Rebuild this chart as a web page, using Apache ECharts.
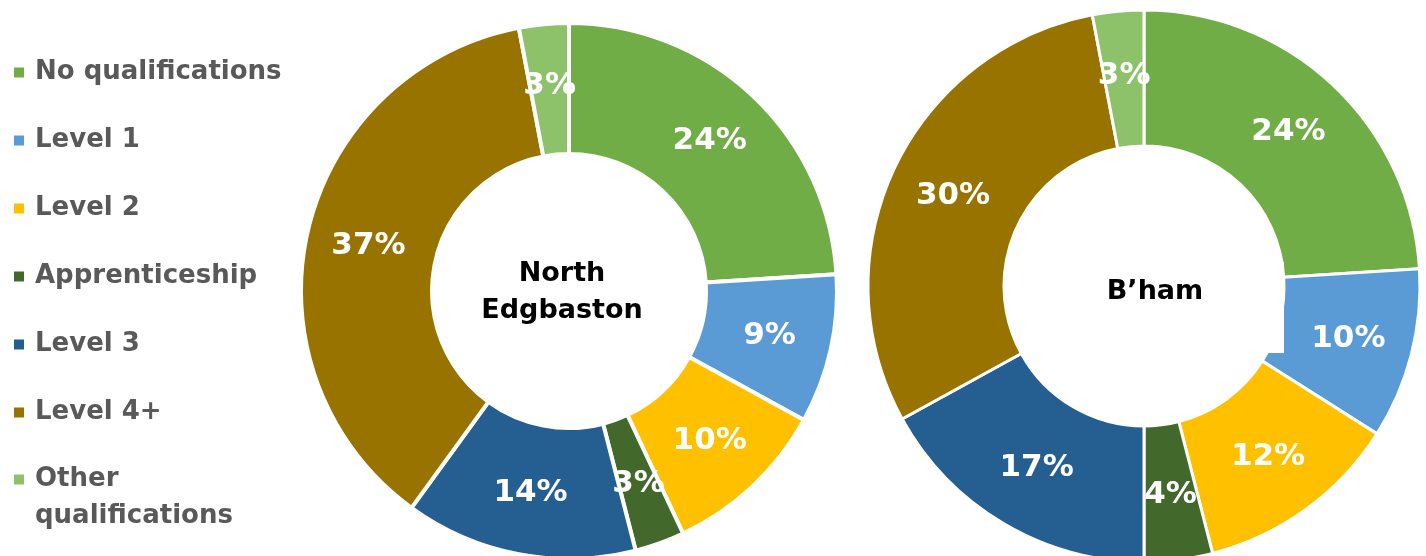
<!DOCTYPE html>
<html>
<head>
<meta charset="utf-8">
<script src="https://cdn.jsdelivr.net/npm/echarts@6/dist/echarts.min.js"></script>
<style>
html, body { margin: 0; padding: 0; background: #fff; }
#chart { width: 1426px; height: 556px; }
</style>
</head>
<body>
<div id="chart"></div>
<script>
// categories and values
var categories = ['No qualifications', 'Level 1', 'Level 2', 'Apprenticeship', 'Level 3', 'Level 4+', 'Other\nqualifications'];
var northEdgbaston = [24, 9, 10, 3, 14, 37, 3];
var birmingham = [24, 10, 12, 4, 17, 30, 3];
var colors = ['#70AD47', '#5B9BD5', '#FFC000', '#43682B', '#255E91', '#997300', '#8DC26B'];

var font = '"DejaVu Sans", Verdana, sans-serif';

function toData(values) {
    return values.map(function (v, i) {
        return { name: categories[i], value: v };
    });
}

function donut(name, center, radius, border, values) {
    return {
        name: name,
        type: 'pie',
        center: center,
        radius: radius,
        startAngle: 90,
        clockwise: true,
        avoidLabelOverlap: false,
        itemStyle: { borderColor: '#fff', borderWidth: border },
        label: {
            show: true,
            position: 'inside',
            formatter: '{c}%',
            color: '#fff',
            fontFamily: font,
            fontWeight: 'bold',
            fontSize: 31
        },
        labelLine: { show: false },
        emphasis: { disabled: true },
        data: toData(values)
    };
}

var legendText = {
    color: '#595959',
    fontFamily: font,
    fontWeight: 'bold',
    fontSize: 26,
    lineHeight: 37,
    padding: [0, 0, 0, 5]
};

var chart = echarts.init(document.getElementById('chart'));
chart.setOption({
    animation: false,
    color: colors,
    legend: [{
        orient: 'vertical',
        left: 12,
        top: 54,
        padding: 0,
        icon: 'rect',
        itemWidth: 12,
        itemHeight: 12,
        itemGap: 31,
        data: categories.slice(0, 6),
        textStyle: legendText
    }, {
        // two-line item: blank first line keeps the icon level with "Other"
        orient: 'vertical',
        left: 12,
        top: 424,
        padding: 0,
        icon: 'rect',
        itemWidth: 12,
        itemHeight: 12,
        data: categories.slice(6),
        formatter: function (name) {
            return ' \n' + name;
        },
        textStyle: legendText
    }],
    series: [
        donut('North Edgbaston', [569, 291], [137, 268], 4, northEdgbaston),
        donut("B'ham", [1144, 286], [140, 276], 3, birmingham)
    ],
    graphic: [
        {
            type: 'rect',
            z: 50,
            shape: { x: 1030, y: 262, width: 254, height: 91 },
            style: { fill: '#fff' }
        },
        {
            type: 'text',
            z: 60,
            x: 562,
            y: 292,
            style: {
                text: 'North\nEdgbaston',
                align: 'center',
                verticalAlign: 'middle',
                fill: '#000',
                font: 'bold 27px ' + font,
                lineHeight: 37
            }
        },
        {
            type: 'text',
            z: 60,
            x: 1155,
            y: 292,
            style: {
                text: 'B\u2019ham',
                align: 'center',
                verticalAlign: 'middle',
                fill: '#000',
                font: 'bold 27px ' + font
            }
        }
    ]
});
</script>
</body>
</html>
